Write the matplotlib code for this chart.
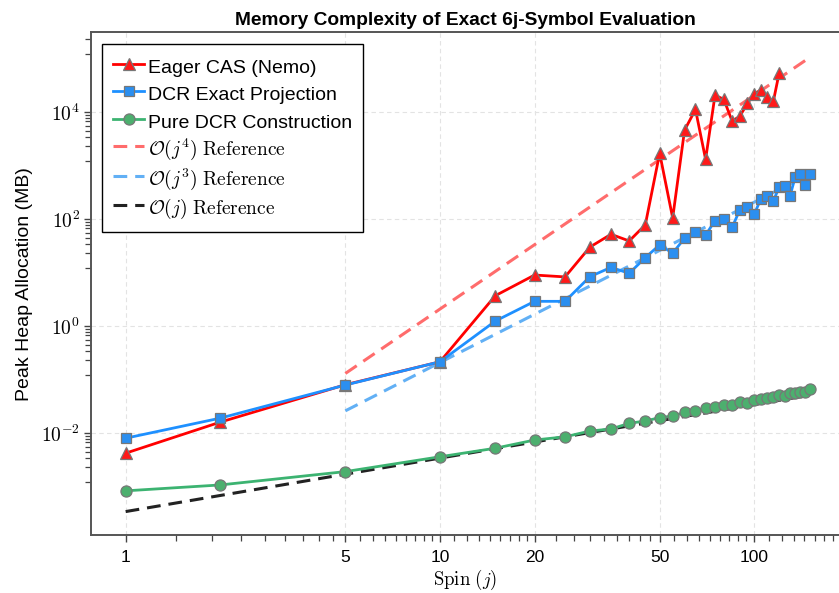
import matplotlib
matplotlib.use("Agg")
import matplotlib.pyplot as plt
import numpy as np
from matplotlib.ticker import FixedLocator, NullFormatter

plt.rcParams['font.family'] = ['Liberation Sans', 'DejaVu Sans']
plt.rcParams['mathtext.fontset'] = 'cm'

# spin values
j_cas = [1, 2, 5, 10, 15, 20, 25, 30, 35, 40, 45, 50, 55, 60, 65, 70, 75, 80,
         85, 90, 95, 100, 105, 110, 115, 120]
j_dcr = [1, 2, 5, 10, 15, 20, 25, 30, 35, 40, 45, 50, 55, 60, 65, 70, 75, 80,
         85, 90, 95, 100, 105, 110, 115, 120, 125, 130, 135, 140, 145, 150]

# peak heap allocation (MB)
eager_cas = [4.2e-3, 0.016, 0.08, 0.215, 3.7, 9.0, 8.3, 30, 52, 39, 78, 1700,
             105, 4600, 11200, 1310, 20800, 17300, 6800, 8400, 14500, 22000,
             26000, 19000, 16000, 54000]
dcr_proj = [8.0e-3, 0.019, 0.079, 0.215, 1.24, 2.9, 2.9, 8.4, 12.5, 9.7, 19,
            33, 23, 44, 58, 50, 94, 102, 70, 150, 166, 124, 240, 270, 222,
            390, 420, 274, 617, 695, 434, 711]
dcr_pure = [8.3e-4, 1.07e-3, 1.9e-3, 3.6e-3, 5.2e-3, 7.4e-3, 8.5e-3, 0.0109,
            0.0119, 0.0152, 0.0168, 0.0194, 0.0208, 0.0243, 0.0258, 0.0289,
            0.031, 0.0334, 0.0334, 0.038, 0.0369, 0.0414, 0.0433, 0.0457,
            0.0478, 0.0513, 0.0499, 0.0552, 0.0552, 0.0591, 0.0591, 0.0656]

# reference lines (end points)
ref4_x = [5, 150]
ref4_y = [0.13, 1.05e5]
ref3_x = [5, 150]
ref3_y = [0.026, 700]
ref1_x = [1, 150]
ref1_y = [3.4e-4, 0.051]

fig = plt.figure(figsize=(8.39, 5.93), dpi=100)
ax = fig.add_axes([0.1085, 0.0978, 0.8915, 0.848])

OB = r'\boldsymbol{\mathcal{O}}'
dash = (4.5, 2.6)
ax.plot(ref4_x, ref4_y, color='#ff6464', alpha=0.95, lw=2.2, ls=(0, dash),
        label=r'$%s(j^4)\ \mathrm{Reference}$' % OB, zorder=2)
ax.plot(ref3_x, ref3_y, color='#5aacf5', alpha=0.95, lw=2.2, ls=(0, dash),
        label=r'$%s(j^3)\ \mathrm{Reference}$' % OB, zorder=2)
ax.plot(ref1_x, ref1_y, color='#222222', lw=2.2, ls=(0, dash),
        label=r'$%s(j)\ \mathrm{Reference}$' % OB, zorder=2)

ax.plot(j_cas, eager_cas, color='#ff0000', lw=2.0, marker='^', ms=9,
        mfc='#ff1a1a', mec='#777777', mew=0.9, label='Eager CAS (Nemo)', zorder=4)
ax.plot(j_dcr, dcr_proj, color='#1e90ff', lw=2.0, marker='s', ms=7.2,
        mfc='#2b8ff0', mec='#777777', mew=0.9, label='DCR Exact Projection', zorder=4)
ax.plot(j_dcr, dcr_pure, color='#3cb371', lw=2.0, marker='o', ms=8,
        mfc='#4caf6e', mec='#777777', mew=0.9, label='Pure DCR Construction', zorder=3)

ax.set_xscale('log')
ax.set_yscale('log')
ax.set_xlim(0.776, 186)
ax.set_ylim(1.24e-4, 3.13e5)

# ticks
xmaj = [1, 5, 10, 20, 50, 100]
ax.xaxis.set_major_locator(FixedLocator(xmaj))
ax.set_xticklabels([str(v) for v in xmaj])
xmin_ticks = []
for a, b in zip([1, 5, 10, 20, 50, 100], [5, 10, 20, 50, 100, 200]):
    xmin_ticks += list(np.linspace(a, b, 10)[1:-1])
ax.xaxis.set_minor_locator(FixedLocator(xmin_ticks))
ax.xaxis.set_minor_formatter(NullFormatter())

ymaj = [1e-4, 1e-2, 1e0, 1e2, 1e4, 1e6]
ax.yaxis.set_major_locator(FixedLocator(ymaj))
ax.set_yticklabels([r'$10^{%d}$' % int(np.log10(v)) for v in ymaj])
ymin_ticks = []
for a, b in zip(ymaj[:-1], ymaj[1:]):
    ymin_ticks += list(np.linspace(a, b, 10)[1:-1])
ax.yaxis.set_minor_locator(FixedLocator(ymin_ticks))
ax.yaxis.set_minor_formatter(NullFormatter())

ax.tick_params(axis='x', which='major', labelsize=12.5, length=5, width=1,
               color='#444444', pad=6)
ax.tick_params(axis='y', which='major', labelsize=14, length=5, width=1,
               color='#444444', pad=3)
ax.tick_params(which='minor', length=4, width=0.9, color='#444444')

for s in ['left', 'bottom', 'top']:
    ax.spines[s].set_color('#555555')
    ax.spines[s].set_linewidth(1.4)
ax.spines['right'].set_visible(False)

ax.grid(True, which='major', color='#e3e3e3', ls=(0, (4, 3)), lw=0.8)
ax.set_axisbelow(True)

ax.set_title('Memory Complexity of Exact 6j-Symbol Evaluation',
             fontsize=13.8, fontweight='bold', pad=5)
ax.set_xlabel(r'$\mathrm{Spin}\ (j)$', fontsize=13.5, labelpad=2)
ax.set_ylabel('Peak Heap Allocation (MB)', fontsize=14, labelpad=6)

h, l = ax.get_legend_handles_labels()
order = [3, 4, 5, 0, 1, 2]
leg = ax.legend([h[i] for i in order], [l[i] for i in order], loc='upper left',
                bbox_to_anchor=(0.015, 0.976), fontsize=14, frameon=True,
                fancybox=False, edgecolor='black', framealpha=1,
                handlelength=1.6, handleheight=1.45, handletextpad=0.2,
                labelspacing=0.22, borderpad=0.55, borderaxespad=0)
leg.get_frame().set_linewidth(1.0)

fig.savefig('out.png', dpi=100)
